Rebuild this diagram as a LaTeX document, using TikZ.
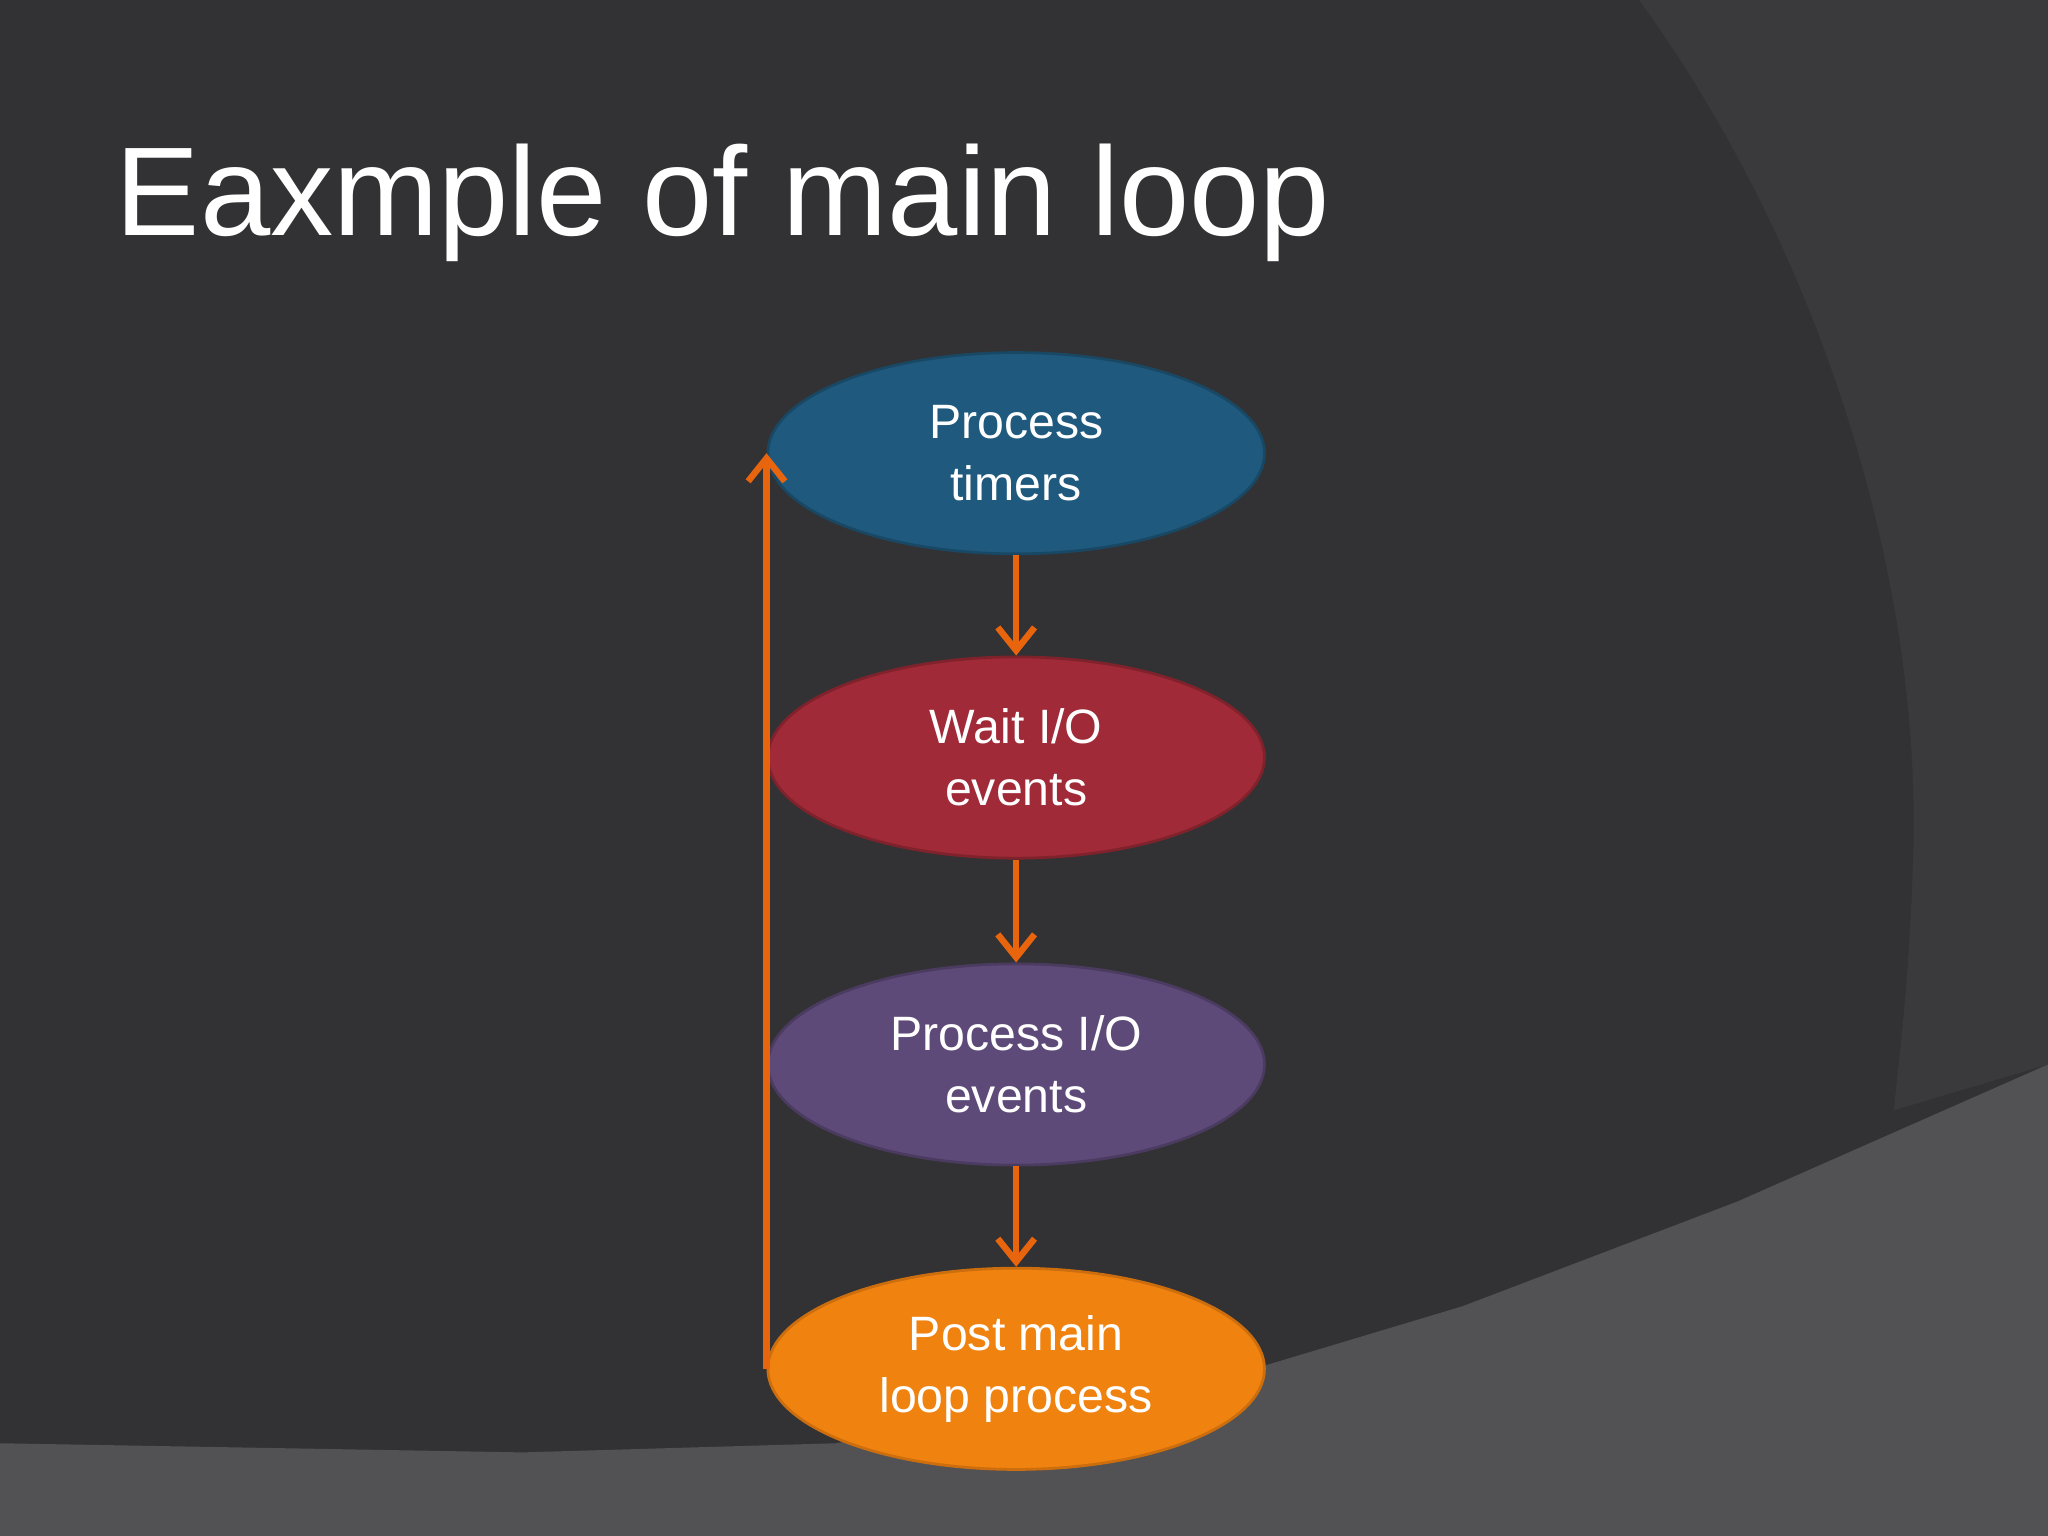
\documentclass[tikz,border=0pt]{standalone}
\usepackage{fontspec}
\setmainfont{Liberation Sans}
\usetikzlibrary{arrows.meta,shapes.geometric}
\definecolor{bg}{HTML}{323234}
\definecolor{arcg}{HTML}{3A3A3C}
\definecolor{lowg}{HTML}{525254}
\definecolor{ob}{HTML}{1F5A7E}
\definecolor{orr}{HTML}{A02A37}
\definecolor{op}{HTML}{5E4A78}
\definecolor{oo}{HTML}{F0820F}
\definecolor{arr}{HTML}{E8650E}
\begin{document}
\begin{tikzpicture}[x=0.01cm,y=-0.01cm,
  box/.style={ellipse, inner sep=0pt, text=white, align=center, font=\fontsize{10.5}{13.5}\selectfont, line width=0.6pt, minimum width=3.8cm, minimum height=1.54cm},
  flow/.style={draw=arr, line width=1.4pt, -{Straight Barb[length=5pt,width=8pt]}}]
\fill[bg] (0,0) rectangle (1568,1176);
\fill[arcg] (1255,0) .. controls (1400,200) and (1470,450) .. (1465,650) .. controls (1462,750) and (1455,800) .. (1450,850) -- (1568,815) -- (1568,0) -- cycle;
\fill[lowg] (0,1105) -- (400,1112) -- (640,1105) -- (970,1045) -- (1120,1000) -- (1330,920) -- (1568,815) -- (1568,1176) -- (0,1176) -- cycle;
\useasboundingbox (0,0) rectangle (1568,1176);
\node[anchor=base west, text=white, font=\fontsize{27.5}{30}\selectfont, inner sep=0pt] (title) at (88,180) {Eaxmple of main loop};
\node[box, fill=ob, draw=ob!80!black] (a) at (778,347) {Process\\timers};
\node[box, fill=orr, draw=orr!80!black] (b) at (778,580) {Wait I/O\\events};
\node[box, fill=op, draw=op!80!black] (c) at (778,815) {Process I/O\\events};
\node[box, fill=oo, draw=oo!85!black] (d) at (778,1048) {Post main\\loop process};
\draw[flow] (a.south) -- (b.north);
\draw[flow] (b.south) -- (c.north);
\draw[flow] (c.south) -- (d.north);
\draw[flow] (d.west) -- (a.west);
\end{tikzpicture}
\end{document}
